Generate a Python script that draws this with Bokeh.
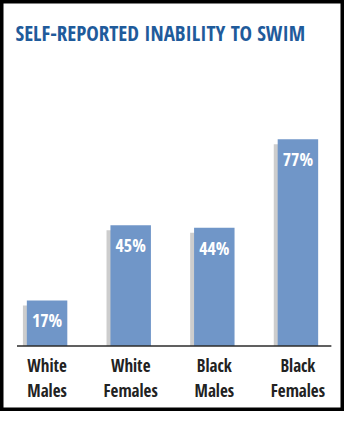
from bokeh.plotting import figure
from bokeh.models import ColumnDataSource, Range1d, FactorRange, Label
from bokeh.transform import dodge
from bokeh.core.properties import value
from bokeh.embed import file_html
from bokeh.resources import INLINE

# ---- data ----
title_text = "SELF-REPORTED INABILITY TO SWIM"
categories = ["White Males", "White Females", "Black Males", "Black Females"]
category_labels = ["White\nMales", "White\nFemales", "Black\nMales", "Black\nFemales"]
values = [17, 45, 44, 77]
value_labels = ["17%", "45%", "44%", "77%"]

# ---- layout constants ----
W, H = 344, 411
PX_PER_UNIT = 2.687          # vertical pixels per percent
BASELINE_PX = 345.6          # pixel row of the baseline (from top)
SHADOW_DROP = 5 / PX_PER_UNIT
FONT = "Open Sans Condensed"
BAR_BLUE = "#7096C8"
SHADOW_GREY = "#CDCDCD"
TITLE_BLUE = "#1F5B9B"

y_range = Range1d(-(H - BASELINE_PX) / PX_PER_UNIT, BASELINE_PX / PX_PER_UNIT)
x_range = FactorRange(factors=categories, range_padding=0.057, range_padding_units="absolute")

p = figure(width=W, height=H, x_range=x_range, y_range=y_range,
           output_backend="svg", toolbar_location=None,
           min_border=0, min_border_left=0, min_border_right=0,
           min_border_top=0, min_border_bottom=0)
p.axis.visible = False
p.grid.visible = False
p.background_fill_color = "white"
p.border_fill_color = "white"
p.outline_line_color = "black"
p.outline_line_width = 6

src = ColumnDataSource(dict(
    cat=categories,
    val=values,
    shadow=[v - SHADOW_DROP for v in values],
    lab=value_labels,
    catlab=category_labels,
    zero=[0] * len(categories),
))

# shadow bars
p.vbar(x=dodge("cat", -0.047, range=x_range), top="shadow", bottom=0, width=0.484,
       source=src, fill_color=SHADOW_GREY, line_color=None)
# main bars
p.vbar(x="cat", top="val", bottom=0, width=0.484, source=src,
       fill_color=BAR_BLUE, line_color=None)

# value labels inside bars
p.text(x="cat", y="val", text="lab", source=src, y_offset=20,
       text_align="center", text_baseline="middle", text_color="white",
       text_font=value(FONT), text_font_size="18px")

# baseline
base_src = ColumnDataSource(dict(x0=[categories[0]], x1=[categories[-1]], y=[0]))
p.segment(x0=dodge("x0", -0.36, range=x_range), x1=dodge("x1", 0.40, range=x_range),
          y0="y", y1="y", source=base_src, line_color="#2b2b2b", line_width=1.5)

# category labels
p.text(x="cat", y="zero", text="catlab", source=src, y_offset=8,
       text_align="center", text_baseline="top", text_color="#222222",
       text_font=value(FONT), text_font_size="17px", text_line_height=1.1)

# title
p.add_layout(Label(x=15, y=H - 32.7, x_units="screen", y_units="screen",
                   text=title_text, text_font=FONT, text_font_size="21px",
                   text_color=TITLE_BLUE,
                   text_baseline="alphabetic", text_align="left"))

open("out.html", "w").write(file_html(p, INLINE))
